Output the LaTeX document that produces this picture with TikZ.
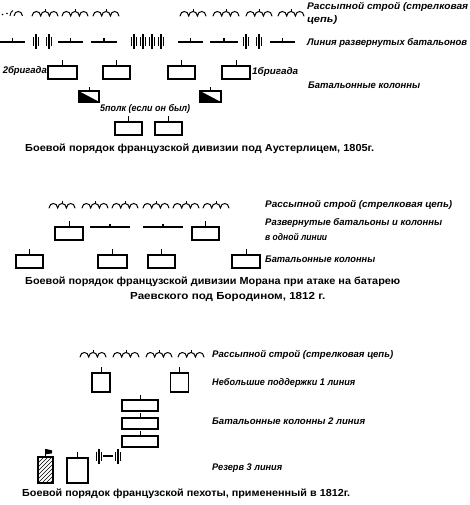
\documentclass[tikz,border=0pt]{standalone}
\usepackage{fontspec}
\usepackage{graphicx}
\setmainfont{Liberation Sans}
\newfontfamily\lblfont{Liberation Sans}
\newfontfamily\capfont{Liberation Sans}
\usetikzlibrary{calc}
\newcommand\fw[2]{\resizebox{#1pt}{\height}{#2}}
\newcommand\bargrp[2]{%
  \draw[barline] (#1-2.6,#2-4.5) -- (#1-2.6,#2+4.5)
                 (#1,#2-7.5) -- (#1,#2+7.5)
                 (#1+2.6,#2-4.5) -- (#1+2.6,#2+4.5);}
\newcommand\depl[3]{%
  \draw[segline] (#1,#3) -- (#2,#3) ({(#1+#2)/2},#3) -- ({(#1+#2)/2},#3-3.5);}
\tikzset{
  chainsym/.pic={
    \draw[line width=1pt, line cap=round]
      (0,0) .. controls (0.5,-6) and (8.2,-6) .. (8.7,0)
      .. controls (9.2,-6) and (16.9,-6) .. (17.4,0)
      .. controls (17.9,-6) and (25.6,-6) .. (26,0);
    \draw[line width=0.8pt] (13.05,-4.3) -- (13.05,-7);
  },
  lbl/.style={anchor=mid west, inner sep=0pt,
    font=\lblfont\bfseries\itshape\fontsize{9.6}{10}\selectfont},
  captext/.style={anchor=mid west, inner sep=0pt,
    font=\capfont\bfseries\fontsize{10.2}{12}\selectfont},
  colbox/.style={draw, line width=1.25pt, inner sep=0pt, fill=white},
  tickline/.style={line width=0.9pt},
  barline/.style={line width=1.1pt},
  segline/.style={line width=1.3pt},
}
\begin{document}
\begin{tikzpicture}[x=1pt,y=-1pt]
\useasboundingbox[fill=white] (0,0) rectangle (470,505);

%================ TOP: Austerlitz ================
% skirmish chain
\fill (2.5,14.5) circle (0.8pt);
\fill (7,13.5) circle (0.8pt);
\draw[line width=0.9pt] (10,16) .. controls (10.5,12) and (12,11) .. (13,10.5);
\draw[line width=1pt] (14,16) .. controls (14.5,10) and (22,10) .. (22.5,16);
\foreach \cx in {32,62,93,180,213,246,278} {\pic at (\cx,16) {chainsym};}
\node[lbl] (t_rass) at (307,7) {\fw{161}{Рассыпной строй (стрелковая}};
\node[lbl] (t_rass2) at (307,19.5) {\fw{30}{цепь)}};

% line of deployed battalions
\foreach \a/\b in {0/25,58/83,91/117,178/203,210/238,270/295} {\depl{\a}{\b}{42}}
\foreach \c in {36,49,134,143,152,161,246,259} {\bargrp{\c}{42}}
\node[lbl] (t_line) at (307,43) {\fw{160}{Линия развернутых батальонов}};

% battalion columns
\foreach \n/\cx/\cy/\w/\h in {ta/62.5/72.5/29/13, tb/116.5/72.5/27/13,
    tc/181.5/72.5/27/13, td/236/72.5/28/13,
    te/128.5/128.5/27/13, tf/168.5/128.5/27/13}{
  \node[colbox, minimum width=\w pt, minimum height=\h pt] (\n) at (\cx,\cy) {};
  \draw[tickline] (\n.north) -- ++(0,-5.5);
}
\node[lbl, anchor=mid east] (t_br2) at (47,71) {\fw{44}{2бригада}};
\node[lbl] (t_br1) at (252,72) {\fw{46}{1бригада}};
\node[lbl] (t_cols) at (308,86) {\fw{112}{Батальонные колонны}};

% hatched (5th regiment) columns
\foreach \n/\cx in {ha/89, hb/210.5}{
  \node[colbox, minimum width=20pt, minimum height=10pt] (\n) at (\cx,96.5) {};
  \begin{scope}
    \clip (\n.north west) -- (\n.south west) -- (\n.south east) -- cycle;
    \fill (\n.north west) -- (\n.south west) -- (\n.south east) -- cycle;
    \foreach \d in {1.8,3.6,5.4,7.2,9}
      {\draw[white, line width=0.6pt] ($(\n.north west)+(\d,0)$) -- ($(\n.south east)+(\d,0)$);}
  \end{scope}
  \draw[line width=1.25pt] (\n.north west) rectangle (\n.south east);
  \draw[tickline] (\n.north) -- ++(0,-4);
}
\node[lbl] (t_5p) at (100,109) {\fw{90}{5полк (если он был)}};

\node[captext] (cap1) at (25,149) {\fw{349}{Боевой порядок французской дивизии под Аустерлицем, 1805г.}};

%================ MIDDLE: Borodino ================
\foreach \cx in {49,82,112,143,173,203} {\pic at (\cx,208) {chainsym};}
\node[lbl] (m_rass) at (265,205) {\fw{187}{Рассыпной строй (стрелковая цепь)}};

\foreach \n/\cx/\cy/\w in {ma/69/233.5/28, mb/205.5/233.5/27,
    mc/29.5/261.5/27, md/112.5/261.5/29, me/161.5/261.5/27, mf/246/261.5/28}{
  \node[colbox, minimum width=\w pt, minimum height=13pt] (\n) at (\cx,\cy) {};
  \draw[tickline] (\n.north) -- ++(0,-5);
}
\depl{90}{130}{227}
\depl{143}{183}{227}
\node[lbl] (m_razv) at (265,223) {\fw{177}{Развернутые батальоны и колонны}};
\node[lbl] (m_razv2) at (265,238) {\fw{62}{в одной линии}};
\node[lbl] (m_cols) at (265,260) {\fw{110}{Батальонные колонны}};

\node[captext] (cap2a) at (25,282) {\fw{375}{Боевой порядок французской дивизии Морана при атаке на батарею}};
\node[captext] (cap2b) at (130,297) {\fw{195}{Раевского под Бородином, 1812 г.}};

%================ BOTTOM: 1812 infantry ================
\foreach \cx in {80,113,146,178} {\pic at (\cx,357) {chainsym};}
\node[lbl] (b_rass) at (212,355) {\fw{181}{Рассыпной строй (стрелковая цепь)}};

\foreach \n/\cx in {sa/101, sb/179.5}{
  \node[colbox, minimum width=18pt, minimum height=19pt] (\n) at (\cx,382.5) {};
  \draw[tickline] (\n.north) -- ++(0,-5);
}
\node[lbl] (b_sup) at (212,383) {\fw{143}{Небольшие поддержки 1 линия}};

\foreach \n/\cy in {la/405.5, lb/423.5, lc/441.5}{
  \node[colbox, minimum width=36pt, minimum height=11pt] (\n) at (140,\cy) {};
  \draw[tickline] (\n.north) -- ++(0,-4);
}
\node[lbl] (b_cols) at (212,422) {\fw{153}{Батальонные колонны 2 линия}};

% reserve
\node[colbox, minimum width=15pt, minimum height=26pt] (rf) at (45.5,470) {};
\begin{scope}
  \clip (rf.south west) rectangle (rf.north east);
  \foreach \d in {-20,-16,...,12}
    {\draw[line width=0.6pt] ($(rf.south west)+(\d,0)$) -- ++(30,-30);}
\end{scope}
\draw[line width=1.25pt] (rf.south west) rectangle (rf.north east);
\draw[line width=0.9pt] (rf.north) -- ++(0,-7);
\fill ($(rf.north)+(0,-7.5)$) -- ++(6.5,1.5) -- ++(0,3) -- ++(-6.5,1) -- cycle;

\node[colbox, minimum width=21pt, minimum height=25pt] (rb) at (77.5,470.5) {};
\draw[tickline] (rb.north) -- ++(0,-5);

\bargrp{99}{456}
\draw[segline] (103,456) -- (113,456);
\bargrp{118}{456}
\node[lbl] (b_res) at (212,468) {\fw{70}{Резерв 3 линия}};

\node[captext] (cap3) at (22,494) {\fw{328}{Боевой порядок французской пехоты, примененный в 1812г.}};
\end{tikzpicture}
\end{document}
